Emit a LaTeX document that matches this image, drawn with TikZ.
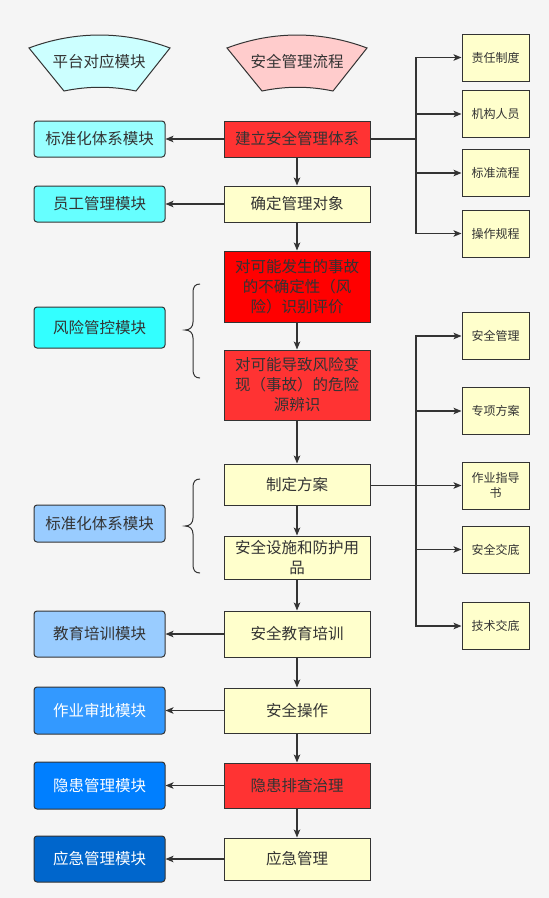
\documentclass[tikz,border=0pt]{standalone}
\usepackage{fontspec}
\newfontfamily\cjk{Noto Sans CJK SC}
\usetikzlibrary{arrows.meta}
\definecolor{bg}{HTML}{F5F5F5}
\definecolor{ln}{HTML}{333333}
\definecolor{txt}{HTML}{333333}
\definecolor{yel}{HTML}{FFFFCC}
\definecolor{redA}{HTML}{FF3333}
\definecolor{redB}{HTML}{FF0000}
\definecolor{cA}{HTML}{99FFFF}
\definecolor{cB}{HTML}{66FFFF}
\definecolor{cC}{HTML}{33FFFF}
\definecolor{bA}{HTML}{99CCFF}
\definecolor{bB}{HTML}{3399FF}
\definecolor{bC}{HTML}{007FFF}
\definecolor{bD}{HTML}{0066CC}
\definecolor{fanL}{HTML}{CCFFFF}
\definecolor{fanR}{HTML}{FFCCCC}
\tikzset{
  midbox/.style={draw=ln, line width=1pt, fill=yel, minimum width=146pt, inner sep=0pt, align=center, text=txt, font=\cjk\fontsize{15.5}{20}\selectfont},
  leftbox/.style={draw=ln, line width=1pt, rounded corners=3pt, minimum width=131pt, inner sep=0pt, align=center, text=txt, font=\cjk\fontsize{15.5}{20}\selectfont},
  smallbox/.style={draw=ln, line width=1pt, fill=yel, minimum width=67pt, minimum height=47pt, inner sep=0pt, align=center, text=txt, font=\cjk\fontsize{12}{15}\selectfont},
  arr/.style={draw=ln, line width=1.2pt, -{Stealth[length=8pt,width=6.5pt,inset=2pt]}},
  plain/.style={draw=ln, line width=1.2pt},
  fan/.style={draw=ln, line width=1pt},
  title/.style={text=txt, font=\cjk\fontsize{15.5}{20}\selectfont}
}
\begin{document}
\begin{tikzpicture}[x=1pt,y=-1pt]
\useasboundingbox[fill=bg] (0,0) rectangle (549,898);
% header fans
\draw[fan, fill=fanL] (29,48) .. controls (75,30.7) and (124,30.7) .. (170,48) -- (136,91) .. controls (112,86) and (88,86) .. (64,91) -- cycle;
\draw[fan, fill=fanR] (227,48) .. controls (273,30.7) and (321,30.7) .. (367,48) -- (333,91) .. controls (309,86) and (286,86) .. (262,91) -- cycle;
\node[title] (t1) at (99,62) {平台对应模块};
\node[title] (t2) at (297,62) {安全管理流程};
% middle column
\node[midbox, fill=redA, minimum height=36pt] (n1) at (297,139) {建立安全管理体系};
\node[midbox, minimum height=36pt] (n2) at (297,204) {确定管理对象};
\node[midbox, fill=redB, minimum height=71pt] (n3) at (297,286.5) {对可能发生的事故\\的不确定性（风\\险）识别评价};
\node[midbox, fill=redA, minimum height=70pt] (n4) at (297,385) {对可能导致风险变\\现（事故）的危险\\源辨识};
\node[midbox, minimum height=41pt] (n5) at (297,484.5) {制定方案};
\node[midbox, minimum height=43pt] (n6) at (297,557.5) {安全设施和防护用\\品};
\node[midbox, minimum height=46pt] (n7) at (297,634) {安全教育培训};
\node[midbox, minimum height=45pt] (n8) at (297,710.5) {安全操作};
\node[midbox, fill=redA, minimum height=45pt] (n9) at (297,785.5) {隐患排查治理};
\node[midbox, minimum height=42pt] (n10) at (297,859) {应急管理};
% left column
\node[leftbox, fill=cA, minimum height=36pt] (l1) at (99.5,139) {标准化体系模块};
\node[leftbox, fill=cB, minimum height=36pt] (l2) at (99.5,204) {员工管理模块};
\node[leftbox, fill=cC, minimum height=41pt] (l3) at (99.5,327.5) {风险管控模块};
\node[leftbox, fill=bA, minimum height=37pt] (l4) at (99.5,523.5) {标准化体系模块};
\node[leftbox, fill=bA, minimum height=46pt] (l5) at (99.5,634) {教育培训模块};
\node[leftbox, fill=bB, minimum height=47pt, text=white] (l6) at (99.5,710.5) {作业审批模块};
\node[leftbox, fill=bC, minimum height=47pt, text=white] (l7) at (99.5,785.5) {隐患管理模块};
\node[leftbox, fill=bD, minimum height=46pt, text=white] (l8) at (99.5,859) {应急管理模块};
% right column top
\node[smallbox] (r1) at (495.5,57.5) {责任制度};
\node[smallbox] (r2) at (495.5,114) {机构人员};
\node[smallbox] (r3) at (495.5,173) {标准流程};
\node[smallbox] (r4) at (495.5,233.5) {操作规程};
% right column lower
\node[smallbox] (s1) at (495.5,336) {安全管理};
\node[smallbox] (s2) at (495.5,411) {专项方案};
\node[smallbox] (s3) at (495.5,485.5) {作业指导\\书};
\node[smallbox] (s4) at (495.5,549.5) {安全交底};
\node[smallbox] (s5) at (495.5,626) {技术交底};
% bus coordinates
\coordinate (b1) at (416,139);
\coordinate (b2) at (416,485.5);
% vertical flow
\draw[arr] (n1) -- (n2);
\draw[arr] (n2) -- (n3);
\draw[arr] (n3) -- (n4);
\draw[arr] (n4) -- (n5);
\draw[arr] (n5) -- (n6);
\draw[arr] (n6) -- (n7);
\draw[arr] (n7) -- (n8);
\draw[arr] (n8) -- (n9);
\draw[arr] (n9) -- (n10);
% to left modules
\draw[arr] (n1.west) -- (n1.west -| l1.east);
\draw[arr] (n2.west) -- (n2.west -| l2.east);
\draw[arr] (n7.west) -- (n7.west -| l5.east);
\draw[arr] (n8.west) -- (n8.west -| l6.east);
\draw[arr] (n9.west) -- (n9.west -| l7.east);
\draw[arr] (n10.west) -- (n10.west -| l8.east);
% right branches top
\draw[plain] (n1.east) -- (b1);
\draw[arr] (b1) |- (r1.west);
\draw[arr] (b1) |- (r2.west);
\draw[arr] (b1) |- (r3.west);
\draw[arr] (b1) |- (r4.west);
% right branches lower
\draw[plain] (n5.east |- b2) -- (b2);
\draw[arr] (b2) |- (s1.west);
\draw[arr] (b2) |- (s2.west);
\draw[arr] (b2) -- (s3.west);
\draw[arr] (b2) |- (s4.west);
\draw[arr] (b2) |- (s5.west);
% braces
\draw[fan] (200,284) .. controls (195,284) and (193,287) .. (193,292) -- (193,322) .. controls (193,327) and (190,330) .. (185,330) .. controls (190,330) and (193,333) .. (193,338) -- (193,370) .. controls (193,375) and (195,378) .. (200,378);
\draw[fan] (200,479) .. controls (195,479) and (193,482) .. (193,487) -- (193,518) .. controls (193,523) and (190,526) .. (185,526) .. controls (190,526) and (193,529) .. (193,534) -- (193,565) .. controls (193,570) and (195,573) .. (200,573);
\end{tikzpicture}
\end{document}
